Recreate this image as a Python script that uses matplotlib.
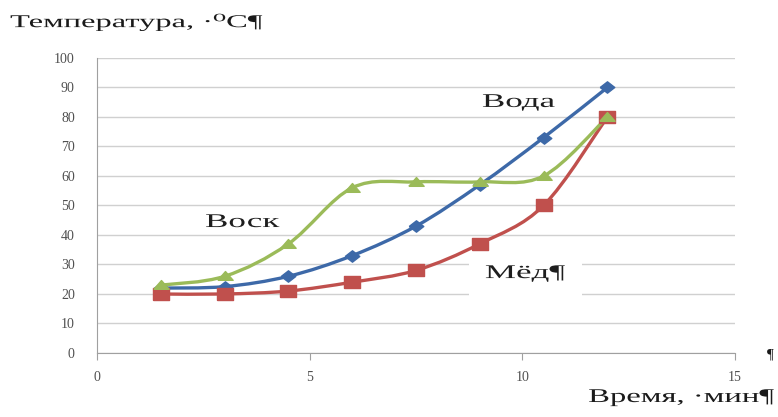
import numpy as np
import matplotlib.pyplot as plt
from matplotlib.path import Path
from matplotlib.patches import PathPatch, Rectangle
from matplotlib.patheffects import AbstractPathEffect
from matplotlib.transforms import Affine2D

time_min = [1.5, 3, 4.5, 6, 7.5, 9, 10.5, 12]
water = [22, 22.5, 26, 33, 43, 57, 73, 90]
wax = [23, 26, 37, 56, 58, 58, 60, 80]
honey = [20, 20, 21, 24, 28, 37, 50, 80]

y_ticks = list(range(0, 101, 10))
x_ticks = [0, 5, 10, 15]

SERIF = ['Liberation Serif', 'DejaVu Serif']


class Stretch(AbstractPathEffect):
    # the source picture is stretched sideways, so widen glyphs about their origin
    def __init__(self, sx):
        super().__init__()
        self.sx = sx

    def draw_path(self, renderer, gc, tpath, affine, rgbFace=None):
        m = affine.get_matrix()
        x0, y0 = m[0, 2], m[1, 2]
        aff = affine + Affine2D().translate(-x0, -y0).scale(self.sx, 1).translate(x0, y0)
        renderer.draw_path(gc, tpath, aff, rgbFace)


def smooth_path(x, y):
    # Excel-like smoothed line: cubic Bezier segments, Catmull-Rom control points
    pts = np.column_stack([x, y]).astype(float)
    verts = [pts[0]]
    codes = [Path.MOVETO]
    n = len(pts)
    for i in range(n - 1):
        p0 = pts[i - 1] if i > 0 else pts[i]
        p1 = pts[i]
        p2 = pts[i + 1]
        p3 = pts[i + 2] if i + 2 < n else pts[i + 1]
        c1 = p1 + (p2 - p0) / 6
        c2 = p2 - (p3 - p1) / 6
        verts += [c1, c2, p2]
        codes += [Path.CURVE4] * 3
    return Path(verts, codes)


wide_square = [(-1, -0.66), (1, -0.66), (1, 0.66), (-1, 0.66), (-1, -0.66)]
wide_diamond = [(-1, 0), (0, 0.78), (1, 0), (0, -0.78), (-1, 0)]
wide_triangle = [(-1, -0.5), (0, 0.65), (1, -0.5), (-1, -0.5)]

fig = plt.figure(figsize=(7.78, 4.17), dpi=100)
ax = fig.add_axes([0.1247, 0.1535, 0.82, 0.7075])

series = [
    (water, '#3d69a8', wide_diamond, 10.5),
    (honey, '#c0504d', wide_square, 12),
    (wax, '#9bbb59', wide_triangle, 11),
]
for vals, color, marker, ms in series:
    ax.add_patch(PathPatch(smooth_path(time_min, vals), facecolor='none',
                           edgecolor=color, lw=2.4, zorder=3))
    ax.plot(time_min, vals, ls='none', marker=marker, ms=ms, color=color,
            markeredgecolor=color, zorder=4)

ax.set_xlim(0, 15)
ax.set_ylim(0, 100)
ax.set_xticks(x_ticks)
ax.set_yticks(y_ticks)
ax.grid(axis='y', color='#d0d0d0', lw=1)
ax.set_axisbelow(True)
for s in ['top', 'right']:
    ax.spines[s].set_visible(False)
ax.spines['left'].set_color('#a0a0a0')
ax.spines['bottom'].set_color('#a0a0a0')
ax.tick_params(axis='y', length=0, pad=16, labelsize=10, labelcolor='#505050')
ax.tick_params(axis='x', length=5, color='#a0a0a0', pad=8, labelsize=10,
               labelcolor='#505050')
for lab in ax.get_xticklabels() + ax.get_yticklabels():
    lab.set_family(SERIF)

# white box behind the "Мёд" label hides the gridlines there
ax.add_patch(Rectangle((8.75, 17), 2.65, 18, facecolor='white',
                       edgecolor='none', zorder=1))

stretch = [Stretch(1.8)]
ax.text(9.05, 83.4, 'Вода', family=SERIF, fontsize=14, color='#1e1e1e',
        ha='left', va='baseline', zorder=5, path_effects=stretch)
ax.text(2.54, 42.7, 'Воск', family=SERIF, fontsize=14, color='#1e1e1e',
        ha='left', va='baseline', zorder=5, path_effects=stretch)
ax.text(9.12, 25.4, 'Мёд¶', family=SERIF, fontsize=14, color='#1e1e1e',
        ha='left', va='baseline', zorder=5, path_effects=stretch)

fig.text(0.0129, 0.935, 'Температура, ·⁰С¶', family=SERIF, fontsize=13,
         color='#1a1a1a', ha='left', va='baseline', path_effects=stretch)
fig.text(0.756, 0.036, 'Время, ·мин¶', family=SERIF, fontsize=14,
         color='#1a1a1a', ha='left', va='baseline',
         path_effects=[Stretch(1.68)])
fig.text(0.99, 0.148, '¶', family=SERIF, fontsize=11, color='#1a1a1a',
         ha='center', va='center')

fig.savefig('out.png', dpi=100)
